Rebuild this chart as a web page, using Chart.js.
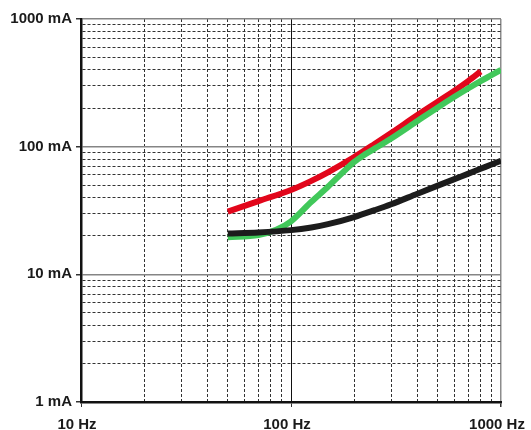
<!DOCTYPE html>
<html>
<head>
<meta charset="utf-8">
<script src="https://cdn.jsdelivr.net/npm/chart.js@4/dist/chart.umd.min.js"></script>
<style>
  body { margin: 0; background: #fff; }
  canvas { display: block; }
</style>
</head>
<body>
<canvas id="chart" width="531" height="430"></canvas>
<script>
// axis ticks (log scales)
const freqTicks = [10, 20, 30, 40, 50, 60, 70, 80, 90, 100, 200, 300, 400, 500, 600, 700, 800, 900, 1000];
const currentTicks = [1, 2, 3, 4, 5, 6, 7, 8, 9, 10, 20, 30, 40, 50, 60, 70, 80, 90, 100, 200, 300, 400, 500, 600, 700, 800, 900, 1000];
const freqLabels = { 10: "10 Hz", 100: "100 Hz", 1000: "1000 Hz" };
const currentLabels = { 1: "1 mA", 10: "10 mA", 100: "100 mA", 1000: "1000 mA" };

// red curve
const redFreq = [50, 70, 100, 125, 150, 200, 250, 300, 400, 500, 600, 700, 800];
const redCurrent = [31, 37.5, 45.8, 54, 63, 83, 105, 128, 177, 225, 274, 328, 388];

// green curve
const greenFreq = [50, 70, 85, 100, 125, 150, 175, 200, 225, 250, 300, 400, 500, 600, 700, 800, 900, 1000];
const greenCurrent = [19.5, 20.3, 22.3, 26, 37, 48.5, 62, 76, 87, 96.5, 116, 159, 203, 246, 287, 326, 363, 400];

// black curve
const blackFreq = [50, 70, 100, 125, 150, 200, 250, 300, 400, 500, 600, 700, 800, 900, 1000];
const blackCurrent = [20.9, 21.3, 22.2, 23.3, 24.7, 28.1, 31.8, 35.4, 42.8, 49.5, 55.7, 61.5, 67.1, 72.4, 77.6];

const toPoints = (xs, ys) => xs.map((x, i) => ({ x: x, y: ys[i] }));
const isMajor = v => Math.abs(Math.log10(v) - Math.round(Math.log10(v))) < 1e-9;

const series = (data, color) => ({
  data: data,
  borderColor: color,
  borderWidth: 6,
  pointRadius: 0,
  fill: false,
  cubicInterpolationMode: "monotone",
});

const labelFont = { family: "'Liberation Sans', Arial, sans-serif", size: 15, weight: "bold" };

new Chart(document.getElementById("chart"), {
  type: "line",
  data: {
    datasets: [
      series(toPoints(blackFreq, blackCurrent), "#1c1c1c"),
      series(toPoints(greenFreq, greenCurrent), "#41c85a"),
      series(toPoints(redFreq, redCurrent), "#e2061b"),
    ],
  },
  options: {
    responsive: false,
    animation: false,
    layout: { padding: { top: 19, right: 30, left: 0, bottom: 0 } },
    plugins: { legend: { display: false }, tooltip: { enabled: false } },
    scales: {
      x: {
        type: "logarithmic",
        min: 10,
        max: 1000,
        afterBuildTicks: s => { s.ticks = freqTicks.map(v => ({ value: v })); },
        afterFit: s => { s.height = 28; s.paddingLeft = 0; s.paddingRight = 0; },
        ticks: {
          autoSkip: false,
          maxRotation: 0,
          padding: 9,
          labelOffset: -4,
          color: "#1a1a1a",
          font: labelFont,
          callback: v => freqLabels[v] || "",
        },
        grid: {
          color: c => c.tick.value === 100 ? "#111" : c.tick.value === 1000 ? "#8c8c8c" : "#333",
          lineWidth: c => c.tick.value === 1000 ? 1.5 : 1,
          tickLength: 5,
          tickColor: c => isMajor(c.tick.value) ? "#333" : "transparent",
        },
        border: {
          color: "#111",
          width: 2.5,
          dash: c => (c.tick && !isMajor(c.tick.value)) ? [3, 2] : [],
        },
      },
      y: {
        type: "logarithmic",
        min: 1,
        max: 1000,
        afterBuildTicks: s => { s.ticks = currentTicks.map(v => ({ value: v })); },
        afterFit: s => { s.width = 81; s.paddingTop = 0; s.paddingBottom = 0; },
        ticks: {
          autoSkip: false,
          padding: 4,
          color: "#1a1a1a",
          font: labelFont,
          callback: v => currentLabels[v] || "",
        },
        grid: {
          color: c => isMajor(c.tick.value) ? "#858585" : "#333",
          lineWidth: c => isMajor(c.tick.value) ? 1.5 : 1,
          tickLength: 5,
          tickColor: c => isMajor(c.tick.value) ? "#333" : "transparent",
        },
        border: {
          color: "#111",
          width: 2.5,
          dash: c => (c.tick && !isMajor(c.tick.value)) ? [3, 2] : [],
        },
      },
    },
  },
});
</script>
</body>
</html>
